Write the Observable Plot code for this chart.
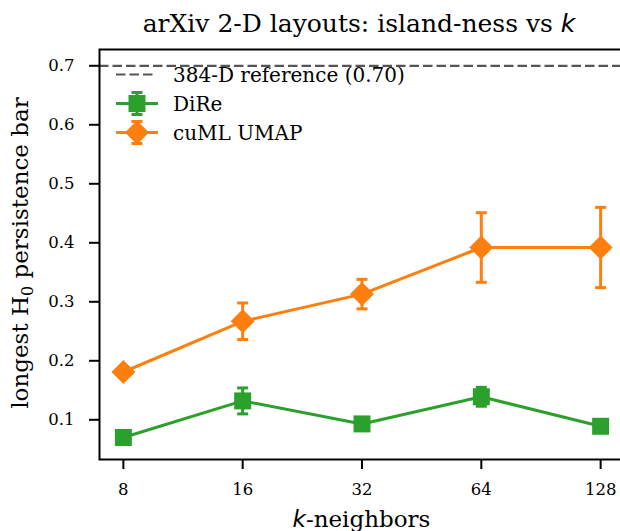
<!DOCTYPE html>
<html><head><meta charset="utf-8">
<script src="https://cdn.jsdelivr.net/npm/d3@7"></script>
<script src="https://cdn.jsdelivr.net/npm/@observablehq/plot@0.6"></script>
<style>
html,body{margin:0;padding:0;background:#fff;overflow:hidden;}
#wrap{position:relative;width:620px;height:531px;overflow:hidden;font-family:"DejaVu Serif";color:#000;}
#title{height:40px;line-height:48px;font-size:25px;text-align:center;padding-left:98px;white-space:nowrap;}
#title .it{font-family:"DejaVu Sans";font-style:italic;}
#chart svg text{font-family:"DejaVu Serif" !important;font-size:16.5px;fill:#000;}
#chart svg text.lbl{font-size:23px !important;}
#chart svg text.lgd{font-size:20px !important;}
#chart svg tspan.it{font-family:"DejaVu Sans" !important;font-style:italic;}
#chart svg tspan.sub{font-size:16px;}
</style></head><body>
<div id="wrap">
<div id="title">arXiv 2-D layouts: island-ness vs <span class="it">k</span></div>
<div id="chart"></div>
</div>
<script>
// ---- data ----
const kValues = [8, 16, 32, 64, 128];
const xTickLabels = ["8", "16", "32", "64", "128"];
const direMean = [0.070, 0.132, 0.093, 0.139, 0.089];
const direErr  = [0.000, 0.022, 0.000, 0.016, 0.000];
const umapMean = [0.181, 0.267, 0.313, 0.392, 0.392];
const umapErr  = [0.000, 0.031, 0.025, 0.059, 0.068];
const refValue = 0.70;
const refLabel = "384-D reference (0.70)";
const yTickValues = [0.1, 0.2, 0.3, 0.4, 0.5, 0.6, 0.7];
const seriesNames = ["DiRe", "cuML UMAP"];
const seriesColors = ["#2ca02c", "#ff7f0e"];

// ---- symbols ----
const squareSym = {draw(c){const h=8.5;c.moveTo(-h,-h);c.lineTo(h,-h);c.lineTo(h,h);c.lineTo(-h,h);c.closePath();}};
const diamondSym = {draw(c){const h=12;c.moveTo(0,-h);c.lineTo(h,0);c.lineTo(0,h);c.lineTo(-h,0);c.closePath();}};
const capSym = {draw(c){c.moveTo(-5.5,0);c.lineTo(5.5,0);}};
const seriesSymbols = [squareSym, diamondSym];

const seriesData = [
  kValues.map((k,i)=>({k, mean: direMean[i], err: direErr[i]})),
  kValues.map((k,i)=>({k, mean: umapMean[i], err: umapErr[i]}))
];

const seriesMarks = [];
seriesData.forEach((data, s) => {
  const color = seriesColors[s];
  seriesMarks.push(
    Plot.ruleX(data, {x: "k", y1: d => d.mean - d.err, y2: d => d.mean + d.err, stroke: color, strokeWidth: 3}),
    Plot.dot(data, {x: "k", y: d => d.mean - d.err, symbol: capSym, stroke: color, fill: "none", strokeWidth: 3}),
    Plot.dot(data, {x: "k", y: d => d.mean + d.err, symbol: capSym, stroke: color, fill: "none", strokeWidth: 3}),
    Plot.line(data, {x: "k", y: "mean", stroke: color, strokeWidth: 3}),
    Plot.dot(data, {x: "k", y: "mean", symbol: seriesSymbols[s], fill: color, stroke: "none"})
  );
});

const svg = Plot.plot({
  width: 620, height: 491,
  marginLeft: 99, marginRight: -4, marginTop: 9, marginBottom: 72,
  style: {fontFamily: "DejaVu Serif", fontSize: "16.5px", color: "#000", background: "transparent"},
  x: {type: "log", base: 2, domain: [8 * 2 ** -0.2, 128 * 2 ** 0.2]},
  y: {domain: [0.0327, 0.7276]},
  marks: [
    Plot.ruleY([refValue], {stroke: "#555", strokeWidth: 2.2, strokeDasharray: "9.5,4"}),
    ...seriesMarks,
    Plot.frame({stroke: "#000", strokeWidth: 2}),
    Plot.axisY(yTickValues, {tickSize: 10, tickPadding: 15, tickFormat: d => d.toFixed(1), strokeWidth: 2, fontSize: 16.5, label: null}),
    Plot.axisX(kValues, {tickSize: 10, tickPadding: 14, tickFormat: d => xTickLabels[kValues.indexOf(d)], strokeWidth: 2, fontSize: 16.5, label: null})
  ]
});
document.getElementById("chart").appendChild(svg);

const root = d3.select(svg);

// y label
const yl = root.append("text").attr("class", "lbl")
  .attr("transform", "translate(28,213) rotate(-90)")
  .attr("text-anchor", "middle");
yl.append("tspan").text("longest H");
yl.append("tspan").attr("class", "sub").attr("dy", 5).text("0");
yl.append("tspan").attr("dy", -5).text(" persistence bar");
// x label
const xl = root.append("text").attr("class", "lbl")
  .attr("x", 361.5).attr("y", 486.5)
  .attr("text-anchor", "middle");
xl.append("tspan").attr("class", "it").text("k");
xl.append("tspan").text("-neighbors");

// legend
const lg = root.append("g").attr("text-anchor", "start");
const baselines = [42, 71, 100];
const hx1 = 116, hx2 = 158, hxm = 137, tx = 173;
lg.append("line").attr("x1", hx1).attr("x2", 153).attr("y1", baselines[0]-7.5).attr("y2", baselines[0]-7.5)
  .attr("stroke", "#555").attr("stroke-width", 2.2).attr("stroke-dasharray", "9.5,4");
lg.append("text").attr("class", "lgd").attr("x", tx).attr("y", baselines[0]).attr("text-anchor", "start").text(refLabel);
seriesNames.forEach((name, s) => {
  const cy = baselines[s+1] - 7.5, color = seriesColors[s];
  lg.append("line").attr("x1", hx1).attr("x2", hx2).attr("y1", cy).attr("y2", cy).attr("stroke", color).attr("stroke-width", 3);
  lg.append("line").attr("x1", hxm).attr("x2", hxm).attr("y1", cy-11).attr("y2", cy+11).attr("stroke", color).attr("stroke-width", 3);
  [cy-11, cy+11].forEach(y => lg.append("line").attr("x1", hxm-5.5).attr("x2", hxm+5.5).attr("y1", y).attr("y2", y).attr("stroke", color).attr("stroke-width", 3));
  const p = d3.path(); seriesSymbols[s].draw(p);
  lg.append("path").attr("d", p.toString()).attr("transform", `translate(${hxm},${cy})`).attr("fill", color);
  lg.append("text").attr("class", "lgd").attr("x", tx).attr("y", baselines[s+1]).attr("text-anchor", "start").text(name);
});
</script>
</body></html>
